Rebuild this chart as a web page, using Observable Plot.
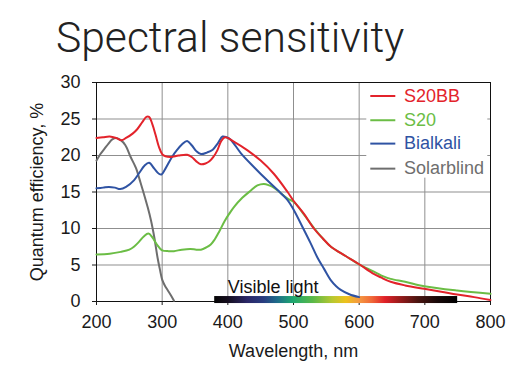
<!DOCTYPE html>
<html><head><meta charset="utf-8">
<script src="https://cdn.jsdelivr.net/npm/d3@7"></script>
<script src="https://cdn.jsdelivr.net/npm/@observablehq/plot@0.6"></script>
<style>
html,body{margin:0;padding:0;background:#fff;}
#wrap{position:relative;width:511px;height:365px;overflow:hidden;}
#title{position:absolute;left:56px;top:16px;font-family:Roboto,"Liberation Sans",sans-serif;font-weight:300;font-size:42.6px;line-height:42.6px;color:#222;white-space:nowrap;}
#chart{position:absolute;left:0;top:0;}
</style></head><body>
<div id="wrap"><div id="chart"></div><div id="title">Spectral sensitivity</div></div>
<script>
// ---- data ----
const xTicks = [200, 300, 400, 500, 600, 700, 800];
const yTicks = [0, 5, 10, 15, 20, 25, 30];

const s20bbNm = [200,210,220,230,238,245,255,262,270,276,280,285,290,295,300,305,313,325,338,345,352,359,366,372,378,384,390,396,409,430,450,470,491,500,516,531,545,557,580,600,620,633,648,670,699,725,749,775,800];
const s20bbQe = [22.4,22.5,22.6,22.4,22.1,22.4,23.0,23.6,24.6,25.3,25.3,24.3,22.8,21.2,20.2,19.9,19.8,20.0,20.1,19.8,19.2,18.8,18.9,19.2,19.8,20.7,22.0,22.5,21.9,20.7,19.3,17.5,15.0,13.8,12.0,10.0,8.6,7.5,6.2,5.1,3.9,3.3,2.7,2.2,1.74,1.35,0.96,0.6,0.2];

const s20Nm = [200,220,237,250,257,265,272,279,285,292,300,310,318,330,343,352,359,367,374,380,387,395,402,409,422,435,445,455,463,470,480,491,501,516,531,545,557,580,600,620,638,648,670,699,749,800];
const s20Qe = [6.45,6.55,6.8,7.1,7.5,8.2,8.9,9.3,8.8,7.8,7.0,6.9,6.9,7.1,7.2,7.1,7.1,7.4,7.8,8.5,9.6,11.0,12.0,12.9,14.2,15.2,15.9,16.1,15.9,15.6,14.9,14.1,13.6,11.9,10.1,8.6,7.5,6.2,5.1,4.2,3.4,3.1,2.7,2.1,1.5,1.05];

const bialkaliNm = [200,210,219,228,236,245,257,265,273,280,288,295,299,305,315,323,330,338,345,352,359,368,377,385,392,398,404,420,440,460,480,491,500,516,526,536,547,557,565,572,585,600];
const bialkaliQe = [15.5,15.6,15.7,15.6,15.4,15.7,16.6,17.6,18.6,19.0,18.2,17.5,17.4,18.2,19.8,20.8,21.5,22.0,21.4,20.6,20.2,20.4,20.8,21.7,22.6,22.5,22.2,20.3,18.4,16.6,14.9,13.9,12.6,9.8,8.0,6.1,4.4,2.9,2.1,1.6,1.0,0.6];

const solarNm = [200,206,212,218,224,230,237,244,252,260,267,272,278,283,288,293,297,300,304,308,313,318];
const solarQe = [19.3,20.2,20.9,21.6,22.2,22.4,22.1,21.4,19.8,18.3,16.3,14.8,12.9,11.1,8.8,6.0,4.2,3.0,2.2,1.6,0.9,0.1];

const seriesNames = ["S20BB", "S20", "Bialkali", "Solarblind"];
const seriesColors = ["#e3232b", "#6bbd45", "#2f53a3", "#6e6e6e"];

const visibleRange = [{from: 380, to: 750}];
const spectrumNm = [380,400,430,455,475,500,530,560,580,600,620,640,660,690,720,750];
const spectrumColors = ["#050505","#140d1c","#2a2666","#283c80","#1e6a8a","#1ea870","#5ab848","#b8c830","#ecc21c","#f59a40","#f06838","#e02028","#a01c1c","#4a1410","#180808","#000000"];

// ---- build ----
const series = [
  {name: seriesNames[0], color: seriesColors[0], nm: s20bbNm, qe: s20bbQe},
  {name: seriesNames[1], color: seriesColors[1], nm: s20Nm, qe: s20Qe},
  {name: seriesNames[2], color: seriesColors[2], nm: bialkaliNm, qe: bialkaliQe},
  {name: seriesNames[3], color: seriesColors[3], nm: solarNm, qe: solarQe}
];
const toRows = s => s.nm.map((x, i) => ({nm: x, qe: s.qe[i]}));
const drawOrder = [3, 1, 2, 0];

const legendY = [28.15, 24.83, 21.63, 18.2];

const plot = Plot.plot({
  width: 511,
  height: 365,
  marginLeft: 96,
  marginRight: 21,
  marginTop: 82,
  marginBottom: 64,
  style: {fontSize: "18px", fontFamily: "'Liberation Sans', Arial, sans-serif", color: "#1a1a1a", background: "transparent", overflow: "visible"},
  x: {domain: [200, 800]},
  y: {domain: [0, 30]},
  marks: [
    Plot.gridX(xTicks, {stroke: "#8f8f8f", strokeOpacity: 1}),
    Plot.gridY(yTicks, {stroke: "#8f8f8f", strokeOpacity: 1}),
    Plot.rect([0], {x1: 611.6, x2: 795.9, y1: 16.9, y2: 29.9, fill: "white"}),
    Plot.frame({stroke: "#111"}),
    Plot.axisY(yTicks, {tickSize: 4, tickPadding: 12, label: "Quantum efficiency, %", labelAnchor: "center", labelArrow: "none", labelOffset: 66}),
    Plot.axisX(xTicks, {tickSize: 4, tickPadding: 10, label: "Wavelength, nm", labelAnchor: "center", labelArrow: "none", labelOffset: 55}),
    Plot.rect(visibleRange, {x1: "from", x2: "to", y1: -0.28, y2: 0.68, fill: "url(#visGrad)"}),
    Plot.text(["Visible light"], {x: 400, y: 1.15, text: d => d, textAnchor: "start", lineAnchor: "bottom", fontSize: 18, fill: "#111"}),
    ...drawOrder.map(k => Plot.line(toRows(series[k]), {x: "nm", y: "qe", stroke: series[k].color, strokeWidth: 2, curve: "catmull-rom"})),
    ...series.map((s, i) => Plot.ruleY([legendY[i]], {x1: 617.7, x2: 655.8, stroke: s.color, strokeWidth: 2})),
    ...series.map((s, i) => Plot.text([s.name], {x: 668.4, y: legendY[i], text: d => d, textAnchor: "start", fill: s.color, fontSize: 18}))
  ]
});

// gradient for the visible light bar
const ns = "http://www.w3.org/2000/svg";
const defs = document.createElementNS(ns, "defs");
const grad = document.createElementNS(ns, "linearGradient");
grad.setAttribute("id", "visGrad");
grad.setAttribute("x1", "0"); grad.setAttribute("x2", "1");
grad.setAttribute("y1", "0"); grad.setAttribute("y2", "0");
spectrumNm.forEach((w, i) => {
  const st = document.createElementNS(ns, "stop");
  st.setAttribute("offset", ((w - 380) / 370).toFixed(4));
  st.setAttribute("stop-color", spectrumColors[i]);
  grad.appendChild(st);
});
defs.appendChild(grad);
plot.insertBefore(defs, plot.firstChild);

document.getElementById("chart").appendChild(plot);
</script>
</body></html>
